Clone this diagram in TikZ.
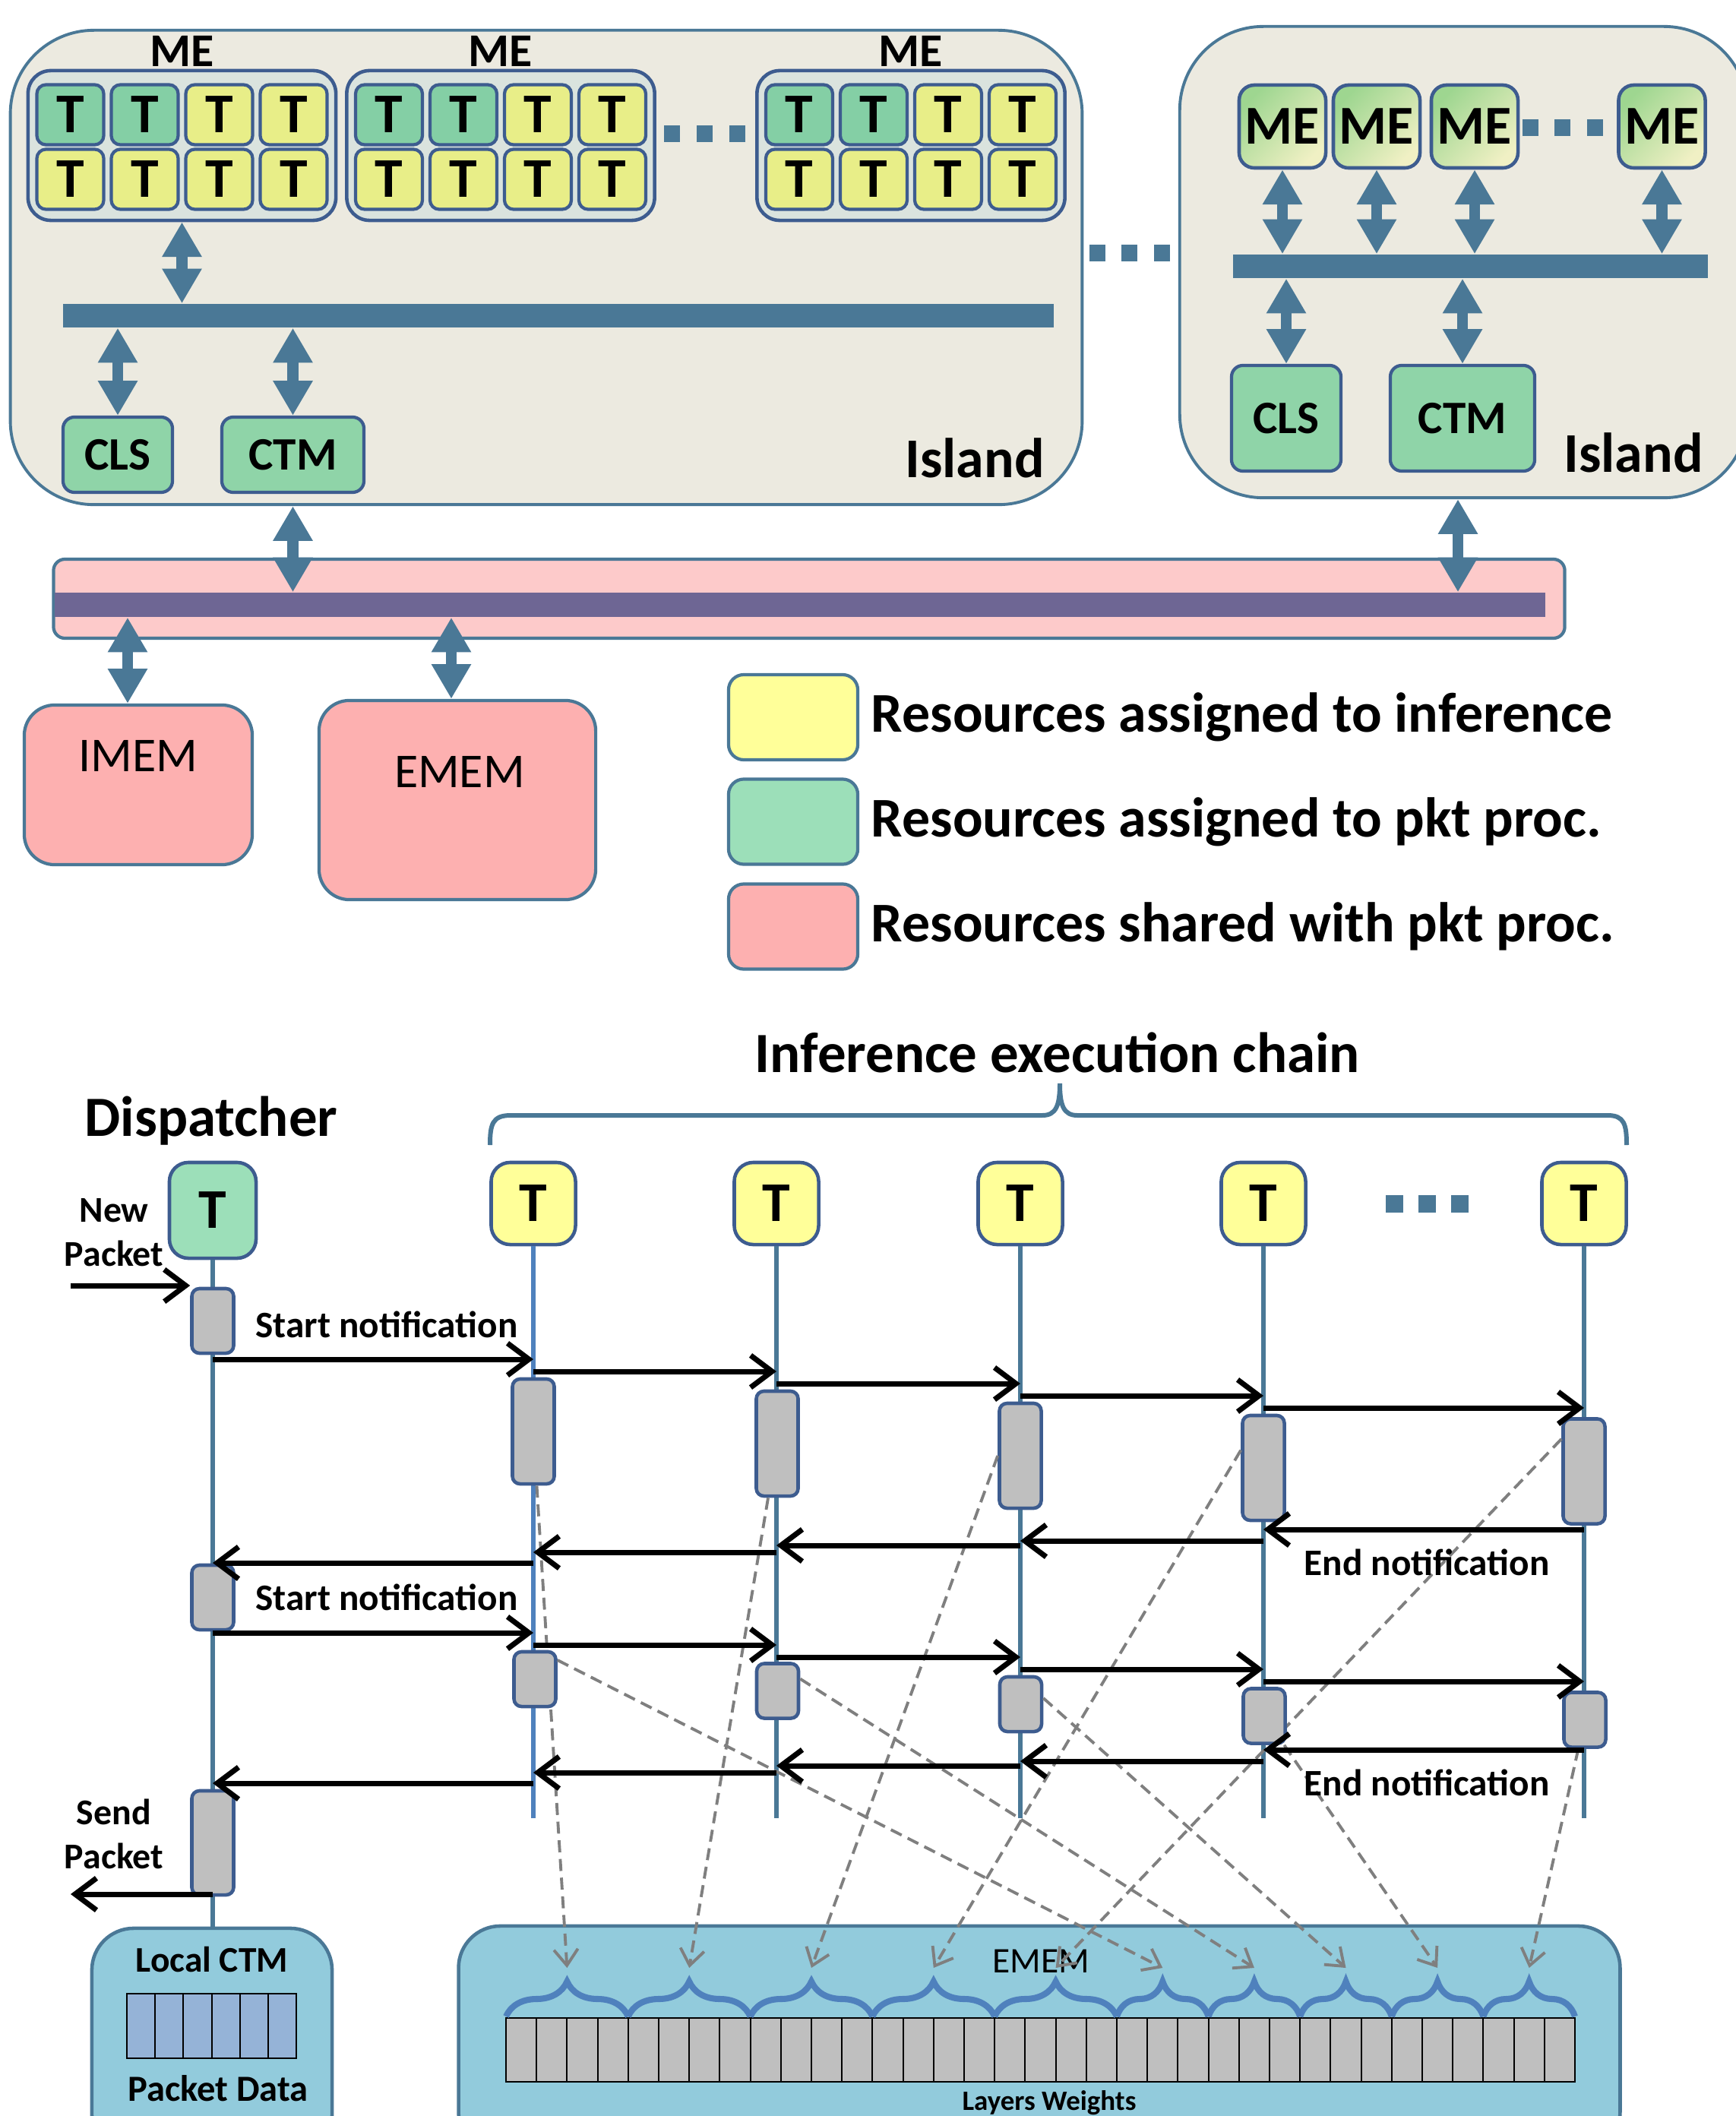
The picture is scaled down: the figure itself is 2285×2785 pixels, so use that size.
\documentclass[tikz,border=0pt]{standalone}
\usepackage{fontspec}
\setmainfont{Carlito}
\usepackage{tikz}
\usetikzlibrary{shapes,arrows.meta,positioning,calc,decorations.pathreplacing}

\definecolor{steel}{HTML}{4A7896}
\definecolor{navy}{HTML}{3D5C8F}
\definecolor{islandbg}{HTML}{ECEAE0}
\definecolor{megrp}{HTML}{DAE3DE}
\definecolor{tgreen}{HTML}{84CFA5}
\definecolor{tyellow}{HTML}{E8EE88}
\definecolor{resgreen}{HTML}{8FD4A8}
\definecolor{megreen}{HTML}{9ED690}
\definecolor{meyellow}{HTML}{E0E47A}
\definecolor{mepale}{HTML}{F0F0C4}
\definecolor{busbg}{HTML}{FDCACA}
\definecolor{busbar}{HTML}{6E6694}
\definecolor{mempink}{HTML}{FDB0B0}
\definecolor{lgyellow}{HTML}{FFFF99}
\definecolor{lggreen}{HTML}{9CDFB9}
\definecolor{actgray}{HTML}{BFBFBF}
\definecolor{ctmblue}{HTML}{92CBDC}
\definecolor{pktblue}{HTML}{95B3D7}
\definecolor{bracecol}{HTML}{4F81BD}
\definecolor{dashgray}{HTML}{7F7F7F}

\begin{document}
\begin{tikzpicture}[x=0.01cm, y=-0.01cm,
    every node/.style={font=\bfseries, inner sep=0pt},
    island/.style={draw=steel, fill=islandbg, line width=1.1pt, rounded corners=1.1cm},
    megroup/.style={draw=navy, fill=megrp, line width=1.3pt, rounded corners=0.3cm, minimum width=4.05cm, minimum height=1.97cm},
    tcell/.style={draw=navy, line width=1.2pt, rounded corners=0.12cm, minimum width=0.88cm, minimum height=0.79cm, font=\fontsize{21}{21}\selectfont\bfseries},
    mebox/.style={draw=navy, line width=1.3pt, rounded corners=0.2cm, minimum width=1.14cm, minimum height=1.09cm,
      top color=megreen, middle color=meyellow, bottom color=mepale, shading angle=45, font=\fontsize{20.5}{20.5}\selectfont\bfseries},
    res/.style={draw=navy, fill=resgreen, line width=1.2pt, rounded corners=0.15cm, font=\fontsize{17.4}{17.4}\selectfont\bfseries},
    bus/.style={fill=steel, minimum height=0.31cm},
    dot/.style={fill=steel, minimum size=0.21cm},
    fatarrow/.style={draw=steel, line width=4pt, {Triangle[length=13pt,width=14pt]}-{Triangle[length=13pt,width=14pt]}},
    mem/.style={draw=steel, fill=mempink, line width=1.2pt, rounded corners=0.4cm},
    memtxt/.style={font=\fontsize{18.2}{18.2}\selectfont},
    legbox/.style={draw=steel, line width=1.2pt, rounded corners=0.2cm, minimum width=1.70cm, minimum height=1.12cm},
    legtxt/.style={font=\fontsize{21}{21}\selectfont\bfseries},
    big/.style={font=\fontsize{21}{21}\selectfont\bfseries},
    ttl/.style={font=\fontsize{21.3}{21.3}\selectfont\bfseries},
    small/.style={font=\fontsize{13.6}{16.6}\selectfont\bfseries, align=center},
    note/.style={font=\fontsize{14}{14}\selectfont\bfseries},
    tnode/.style={draw=navy, fill=lgyellow, line width=1.3pt, rounded corners=0.25cm, minimum width=1.11cm, minimum height=1.08cm, font=\fontsize{21}{21}\selectfont\bfseries},
    life/.style={draw=steel, line width=1.6pt},
    act/.style={draw=navy, fill=actgray, line width=1.3pt, rounded corners=0.1cm, minimum width=0.55cm},
    msg/.style={draw=black, line width=2pt, -{Straight Barb[length=8pt,width=12pt]}},
    dsh/.style={draw=dashgray, line width=1.1pt, dash pattern=on 4.5pt off 2.5pt, -{Straight Barb[length=6pt,width=9pt]}},
    ctmbox/.style={draw=steel, fill=ctmblue, line width=1.3pt, rounded corners=0.55cm},
    cell/.style={draw=black, line width=0.6pt},
    wbrace/.style={decorate, decoration={brace, amplitude=0.46cm}, draw=bracecol, line width=2.3pt}]

      \useasboundingbox (0,0) rectangle (2285,2785);

      % Island with ME groups
      \node[island, minimum width=14.10cm, minimum height=6.24cm] (isl1) at (719,352) {};
      \node[big] (isl1lbl) at (1283,603) {Island};
      \foreach \g/\gx in {1/239.5, 2/659, 3/1199} {
        \node[megroup] (g\g) at (\gx,191.5) {};
        \node[font=\fontsize{17.6}{17.6}\selectfont\bfseries] (me\g) at (\gx,67) {ME};
        \foreach \c/\col in {1/tgreen, 2/tgreen, 3/tyellow, 4/tyellow}
          \node[tcell, fill=\col] (t\g-1-\c) at ({\gx-245+98*\c},151) {T};
        \foreach \c in {1,...,4}
          \node[tcell, fill=tyellow] (t\g-2-\c) at ({\gx-245+98*\c},236) {T};
      }
      \foreach \i/\dx in {1/884, 2/927, 3/970}
        \node[dot] (gd\i) at (\dx,176) {};

      % Island bus
      \node[bus, minimum width=13.04cm] (bus1) at (735,415.5) {};
      \node[res, minimum width=1.44cm, minimum height=0.99cm] (cls1) at (155,598.5) {CLS};
      \node[res, minimum width=1.87cm, minimum height=0.99cm] (ctm1) at (385.5,598.5) {CTM};
      \draw[fatarrow] (g1.south) -- (g1.south |- bus1.north);
      \draw[fatarrow] (cls1.north) -- (cls1.north |- bus1.south);
      \draw[fatarrow] (ctm1.north) -- (ctm1.north |- bus1.south);

      % Dots between islands
      \foreach \i/\dx in {1/1444, 2/1486, 3/1529}
        \node[dot] (id\i) at (\dx,333) {};

      % Second island
      \node[island, minimum width=7.47cm, minimum height=6.20cm] (isl2) at (1926.5,345) {};
      \node[big] (isl2lbl) at (2150,596) {Island};
      \node[bus, minimum width=6.25cm] (bus2) at (1935.5,350.5) {};
      \foreach \i/\mx in {1/1688, 2/1812, 3/1941, 4/2187.5} {
        \node[mebox] (m\i) at (\mx,166.5) {ME};
        \draw[fatarrow] (m\i.south) -- (m\i.south |- bus2.north);
      }
      \foreach \i/\dx in {1/2014, 2/2056, 3/2099}
        \node[dot] (md\i) at (\dx,168) {};
      \node[res, minimum width=1.44cm, minimum height=1.39cm] (cls2) at (1693,550.5) {CLS};
      \node[res, minimum width=1.90cm, minimum height=1.39cm] (ctm2) at (1925,550.5) {CTM};
      \draw[fatarrow] (cls2.north) -- (cls2.north |- bus2.south);
      \draw[fatarrow] (ctm2.north) -- (ctm2.north |- bus2.south);

      % Shared bus and memories
      \node[draw=steel, fill=busbg, line width=1.2pt, rounded corners=0.15cm, minimum width=19.88cm, minimum height=1.04cm] (pbus) at (1065,788) {};
      \node[fill=busbar, minimum width=19.60cm, minimum height=0.32cm] (pbar) at (1053,796) {};
      \draw[fatarrow] (ctm1.south |- isl1.south) -- (ctm1.south |- pbar.north);
      \draw[fatarrow] ([xshift=-0.06cm]ctm2.south |- isl2.south) -- ([xshift=-0.06cm]ctm2.south |- pbar.north);
      \node[mem, minimum width=3.00cm, minimum height=2.10cm] (imem) at (182,1033) {};
      \node[memtxt] (imemlbl) at (182,995) {IMEM};
      \node[mem, minimum width=3.64cm, minimum height=2.62cm] (emem) at (602,1053) {};
      \node[memtxt] (ememlbl) at (605,1016) {EMEM};
      \draw[fatarrow] ([xshift=-0.14cm]imem.north) -- ([xshift=-0.14cm]imem.north |- pbar.south);
      \draw[fatarrow] ([xshift=-0.08cm]emem.north) -- ([xshift=-0.08cm]emem.north |- pbar.south);

      % Legend
      \foreach \i/\ly/\col/\txt in {1/944/lgyellow/{Resources assigned to inference},
                                    2/1081.5/lggreen/{Resources assigned to pkt proc.},
                                    3/1219.5/mempink/{Resources shared with pkt proc.}} {
        \node[legbox, fill=\col] (leg\i) at (1044,\ly) {};
        \node[legtxt, right=0.15cm of leg\i] (legt\i) {\txt};
      }

      % Titles and brace
      \node[ttl] (disp) at (278,1475) {Dispatcher};
      \node[ttl] (chain) at (1392,1385) {Inference execution chain};
      \draw[steel, line width=1.7pt] (645,1507) .. controls (645,1480) and (648,1468) .. (672,1468) -- (1372,1468)
        .. controls (1390,1468) and (1395,1455) .. (1395,1426) .. controls (1395,1455) and (1400,1468) .. (1418,1468)
        -- (2116,1468) .. controls (2138,1468) and (2141,1480) .. (2141,1507);

      % Threads
      \node[tnode, fill=lggreen, minimum width=1.14cm, minimum height=1.26cm] (td) at (280,1593) {T};
      \foreach \i/\tx in {1/702, 2/1022, 3/1343, 4/1663, 5/2085} {
        \node[tnode] (t\i) at (\tx,1584) {T};
        \coordinate (e\i) at (\tx,2393);
      }
      \foreach \i/\dx in {1/1835, 2/1878, 3/1921}
        \node[dot, minimum size=0.23cm] (td\i) at (\dx,1584) {};

      % Memories
      \node[ctmbox, minimum width=3.16cm, minimum height=3.0cm] (lctm) at (279,2688) {};
      \node[font=\fontsize{13.5}{13.5}\selectfont\bfseries] (lctmlbl) at (279,2579) {Local CTM};
      \node[font=\fontsize{13.8}{13.8}\selectfont\bfseries] (pktlbl) at (287,2749) {Packet Data};
      \foreach \k in {0,...,5}
        \draw[cell, fill=pktblue] ({167+37.2*\k},2624) rectangle ++(37.2,85);
      \node[ctmbox, minimum width=15.28cm, minimum height=3.0cm] (ememb) at (1368,2685) {};
      \node[font=\fontsize{13.5}{13.5}\selectfont] (emlbl) at (1370,2581) {EMEM};
      \node[font=\fontsize{10.5}{10.5}\selectfont\bfseries] (lwlbl) at (1381,2768) {Layers Weights};
      \foreach \k in {0,...,34}
        \draw[cell, fill=actgray] ({666+40.2*\k},2656) rectangle ++(40.2,84);
      \foreach \i/\a/\b in {1/0/4, 2/4/8, 3/8/12, 4/12/16, 5/16/20, 6/20/23, 7/23/26, 8/26/29, 9/29/32, 10/32/35} {
        \draw[wbrace] ({666+40.2*\a},2654) -- ({666+40.2*\b},2654);
        \coordinate (w\i) at ({666+20.1*(\a+\b)},2590);
      }

      % Lifelines
      \draw[life] (td.south) -- (td.south |- lctm.north);
      \draw[life, draw=bracecol] (t1) -- (e1);
      \foreach \i in {2,...,5}
        \draw[life] (t\i) -- (e\i);

      % First pass
      \node[act, minimum height=0.85cm] (a0) at (280,1738.5) {};
      \foreach \i/\ax/\ay in {1/702/1884, 2/1023/1900, 3/1343/1916, 4/1663/1932, 5/2085/1936.5}
        \node[act, minimum height=1.38cm] (a\i) at (\ax,\ay) {};
      \draw[dsh] (a1) -- (w1);
      \draw[dsh] (a2) -- (w2);
      \draw[dsh] (a3.west) -- (w3);
      \draw[dsh] (a4.142) -- (w4);
      \draw[dsh] (a5.125) -- (w5);

      % Second pass
      \node[act, minimum height=0.85cm] (b0) at (280,2102.5) {};
      \foreach \i/\ax/\ay in {1/704/2210, 2/1023.5/2225.5, 3/1343.5/2243, 4/1664/2258.5, 5/2086/2263.5}
        \node[act, minimum height=0.72cm] (b\i) at (\ax,\ay) {};
      \draw[dsh] (b1.40) -- (w6);
      \draw[dsh] (b2.28) -- (w7);
      \draw[dsh] (b3.15) -- (w8);
      \draw[dsh] (b4) -- (w9);
      \draw[dsh] (b5) -- (w10);
      \node[act, minimum height=1.37cm] (c0) at (280,2425.5) {};

      % Notifications
      \foreach \f/\t/\y in {td/t1/1789, t1/t2/1805, t2/t3/1821, t3/t4/1837, t4/t5/1853,
                            t5/t4/2013, t4/t3/2028, t3/t2/2034, t2/t1/2043, t1/td/2057,
                            td/t1/2149, t1/t2/2165, t2/t3/2181, t3/t4/2197, t4/t5/2213,
                            t5/t4/2303, t4/t3/2318, t3/t2/2324, t2/t1/2333, t1/td/2347}
        \draw[msg] (\f |- 0,\y) -- (\t |- 0,\y);
      \coordinate (np) at (93,1692);
      \draw[msg] (np) -- (np -| a0.west);
      \coordinate (sp) at (93,2493);
      \draw[msg] (td |- sp) -- (sp);

      % Labels
      \node[small] (newp) at (150,1622) {New\\Packet};
      \node[small] (sendp) at (150,2414) {Send\\Packet};
      \node[note] (sn1) at (509,1743) {Start notification};
      \node[note] (sn2) at (509,2102) {Start notification};
      \node[note] (en1) at (1878,2056) {End notification};
      \node[note] (en2) at (1878,2346) {End notification};
    \end{tikzpicture}
\end{document}
